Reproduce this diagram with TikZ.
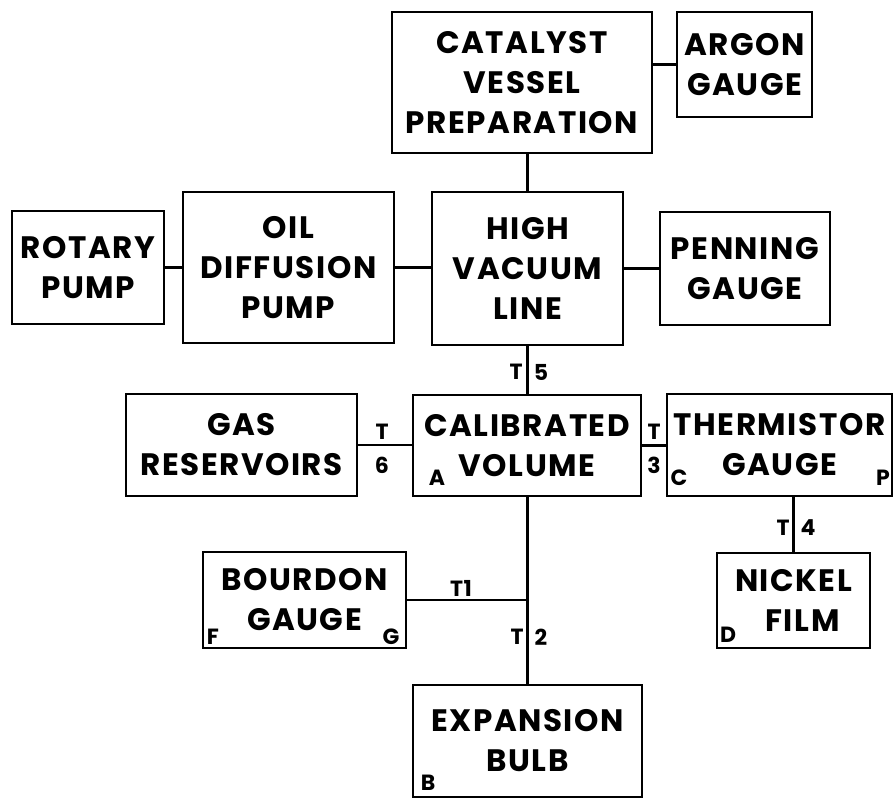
\documentclass[tikz,border=0pt]{standalone}
\usepackage{fontspec}
\setmainfont{Poppins}
\newfontfamily\boxfont[LetterSpace=5]{Poppins}
\newfontfamily\lblfont[LetterSpace=2]{Poppins}
\begin{document}
\begin{tikzpicture}[x=1pt,y=-1pt]
\tikzset{
  box/.style={draw, line width=2.8pt, inner sep=0pt, align=center,
    font={\boxfont\bfseries\fontsize{31}{40}\selectfont}},
  lbl/.style={inner sep=0pt, font={\lblfont\bfseries\fontsize{22}{24}\selectfont}},
  wire/.style={line width=2.8pt}
}
\useasboundingbox (0,0) rectangle (894,799);
% boxes
\node[box, minimum width=260, minimum height=141] (cat) at (522,82.5) {CATALYST\\VESSEL\\PREPARATION};
\node[box, minimum width=135, minimum height=105] (arg) at (744.5,64.5) {ARGON\\GAUGE};
\node[box, minimum width=152, minimum height=113] (rot) at (88,267.5) {ROTARY\\PUMP};
\node[box, minimum width=211, minimum height=151] (oil) at (288.5,267.5) {OIL\\DIFFUSION\\PUMP};
\node[box, minimum width=191, minimum height=153] (hvl) at (527.5,268.5) {HIGH\\VACUUM\\LINE};
\node[box, minimum width=170, minimum height=113] (pen) at (745,268.5) {PENNING\\GAUGE};
\node[box, minimum width=231, minimum height=102] (gas) at (241.5,445) {GAS\\RESERVOIRS};
\node[box, minimum width=228, minimum height=101] (cal) at (527,445.5) {CALIBRATED\\VOLUME};
\node[box, minimum width=225, minimum height=102] (thm) at (779.5,445) {THERMISTOR\\GAUGE};
\node[box, minimum width=153, minimum height=95] (nik) at (793.5,600.5) {NICKEL\\\hspace*{18pt}FILM};
\node[box, minimum width=203, minimum height=96] (bou) at (304.5,600) {BOURDON\\GAUGE};
\node[box, minimum width=229, minimum height=112] (exp) at (527.5,741) {EXPANSION\\BULB};
% connectors
\draw[wire] (hvl.north) -- (hvl.north |- cat.south);
\draw[wire] (arg.west) -- (arg.west -| cat.east);
\draw[wire] (rot.east) -- (rot.east -| oil.west);
\draw[wire] (oil.east) -- (oil.east -| hvl.west);
\draw[wire] (hvl.east) -- (hvl.east -| pen.west);
\draw[wire] (hvl.south) -- (hvl.south |- cal.north);
\draw[wire] (gas.east) -- (gas.east -| cal.west);
\draw[wire] (cal.east) -- (cal.east -| thm.west);
\draw[wire] (nik.north) -- (nik.north |- thm.south);
\draw[wire] (exp.north) -- (exp.north |- cal.south);
\coordinate (j) at (exp.north |- bou.east);
\draw[wire] (bou.east) -- (j);
% tap labels
\node[lbl] (t5a) at (516,372) {T};
\node[lbl] (t5b) at (541,372) {5};
\node[lbl] (t6a) at (382,432) {T};
\node[lbl] (t6b) at (382,465) {6};
\node[lbl] (t3a) at (654,432) {T};
\node[lbl] (t3b) at (654,465) {3};
\node[lbl] (t4a) at (783,528) {T};
\node[lbl] (t4b) at (808,528) {4};
\node[lbl] (t1) at (461,588) {T1};
\node[lbl] (t2a) at (517,637) {T};
\node[lbl] (t2b) at (541,637) {2};
% corner letters
\node[lbl] (la) at (437,478) {A};
\node[lbl] (lc) at (679,478) {C};
\node[lbl] (lp) at (883,478) {P};
\node[lbl] (ld) at (728,635) {D};
\node[lbl] (lf) at (213,637) {F};
\node[lbl] (lg) at (391,637) {G};
\node[lbl] (lb) at (428,783) {B};
\end{tikzpicture}
\end{document}
